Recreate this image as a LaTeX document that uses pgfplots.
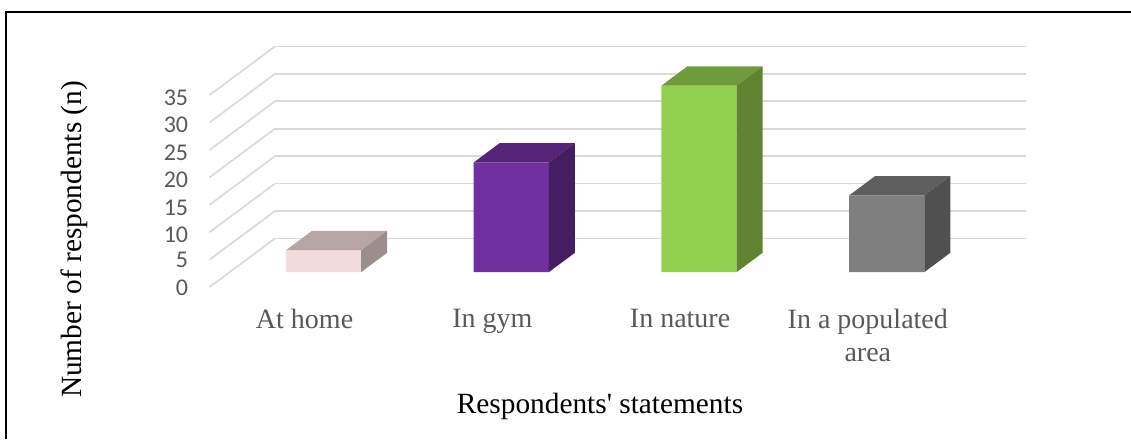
\documentclass[border=0pt]{standalone}
\usepackage{pgfplots}
\pgfplotsset{compat=1.18}
\usepackage{fontspec}
\setmainfont{Liberation Serif}
\newfontfamily\tickfont{Carlito}
\definecolor{txtgray}{HTML}{595959}
\definecolor{gridgray}{HTML}{D9D9D9}
\definecolor{roseF}{HTML}{F2DCDB}
\definecolor{roseT}{HTML}{B5A5A4}
\definecolor{roseS}{HTML}{9C8E8D}
\definecolor{violF}{HTML}{7030A0}
\definecolor{violT}{HTML}{552478}
\definecolor{violS}{HTML}{441D62}
\definecolor{limeF}{HTML}{92D050}
\definecolor{limeT}{HTML}{6E9C3C}
\definecolor{limeS}{HTML}{5F8330}
\definecolor{grayF}{HTML}{7F7F7F}
\definecolor{grayT}{HTML}{5F5F5F}
\definecolor{grayS}{HTML}{505050}
% One solid column: front, top and side faces.
\newcommand{\column}[6]{%
  \addplot3[fill=#4,draw=none] coordinates {(#1,0.308,0) (#2,0.308,0) (#2,0.308,#3) (#1,0.308,#3) (#1,0.308,0)};
  \addplot3[fill=#5,draw=none] coordinates {(#1,0.308,#3) (#2,0.308,#3) (#2,0.704,#3) (#1,0.704,#3) (#1,0.308,#3)};
  \addplot3[fill=#6,draw=none] coordinates {(#2,0.308,0) (#2,0.704,0) (#2,0.704,#3) (#2,0.308,#3) (#2,0.308,0)};
}
\begin{document}
\begin{tikzpicture}[x=0.75pt,y=0.75pt]
\path[use as bounding box] (0,0) rectangle (1131,439);
\draw[black,line width=1.6pt] (1131,427) -- (6,427) -- (6,0);
\begin{axis}[
  at={(157.125pt,113.9pt)},anchor=south west,
  x={(140.81pt,0pt)},y={(49.1pt,36.5pt)},z={(0pt,4.1145pt)},
  xmin=0,xmax=4,ymin=0,ymax=1,zmin=0,zmax=35,
  clip=false,
  axis line style={draw=none},
  major tick length=0pt,
  xtick={0.5,1.5,2.5,3.5},
  xticklabels={At home,In gym,In nature,{In a populated\\area}},
  ytick=\empty,
  ztick={0,5,...,35},
  zmajorgrids=true,
  grid style={gridgray,line width=1.25pt},
  x tick label style={font=\fontsize{21}{24.75}\selectfont,text=txtgray,align=center,anchor=north,xshift=0.9pt,yshift=-13pt},
  z tick label style={font=\fontsize{18}{20}\selectfont\tickfont,text=txtgray,xshift=-12.5pt,yshift=2.2pt},
  /pgf/number format/assume math mode=true,
  xlabel={Respondents\textquotesingle{} statements},
  zlabel={Number of respondents (n)},
  x label style={font=\fontsize{22}{26}\selectfont,at={(axis cs:2.08,0,-21.8)},anchor=center},
  z label style={font=\fontsize{22}{26}\selectfont,at={(axis cs:-0.722,0,8.7)},anchor=center},
]
\column{0.3}{0.7}{4}{roseF}{roseT}{roseS}
\column{1.3}{1.7}{20}{violF}{violT}{violS}
\column{2.3}{2.7}{34}{limeF}{limeT}{limeS}
\column{3.3}{3.7}{14}{grayF}{grayT}{grayS}
\end{axis}
\end{tikzpicture}
\end{document}
